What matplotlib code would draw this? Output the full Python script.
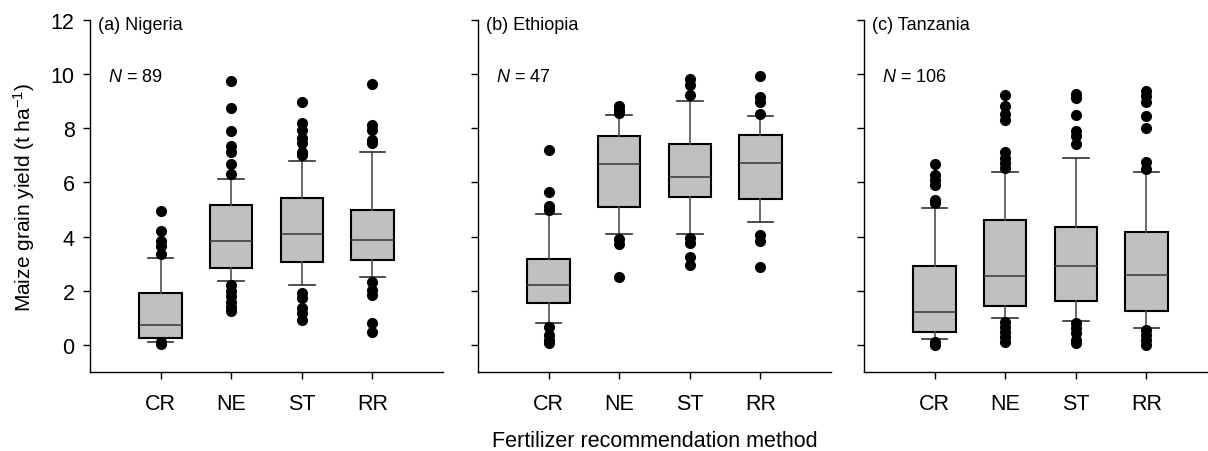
import matplotlib
matplotlib.use("Agg")
import matplotlib.pyplot as plt

plt.rcParams['font.family'] = ['Liberation Sans', 'DejaVu Sans']
plt.rcParams['mathtext.fontset'] = 'custom'
plt.rcParams['mathtext.rm'] = 'Liberation Sans'
plt.rcParams['mathtext.it'] = 'Liberation Sans:italic'
plt.rcParams['mathtext.bf'] = 'Liberation Sans:bold'

methods = ["CR", "NE", "ST", "RR"]
panel_titles = ["(a) Nigeria", "(b) Ethiopia", "(c) Tanzania"]
sample_sizes = [89, 47, 106]

# Per panel, per method: whislo, q1, median, q3, whishi
nigeria_stats = [
    [0.09, 0.25, 0.74, 1.92, 3.20],
    [2.36, 2.83, 3.84, 5.17, 6.13],
    [2.22, 3.05, 4.10, 5.43, 6.81],
    [2.51, 3.13, 3.86, 4.98, 7.11],
]
ethiopia_stats = [
    [0.82, 1.53, 2.22, 3.18, 4.82],
    [4.10, 5.11, 6.68, 7.73, 8.50],
    [4.10, 5.48, 6.22, 7.43, 9.02],
    [4.55, 5.38, 6.72, 7.75, 8.46],
]
tanzania_stats = [
    [0.21, 0.49, 1.23, 2.92, 5.05],
    [0.98, 1.45, 2.56, 4.62, 6.39],
    [0.90, 1.61, 2.93, 4.37, 6.89],
    [0.64, 1.24, 2.60, 4.17, 6.38],
]

nigeria_outliers = [
    [4.96, 4.22, 3.84, 3.67, 3.35, 0.02, 0.10],
    [9.75, 8.74, 7.90, 7.36, 7.11, 6.70, 6.31, 2.20, 2.00, 1.80, 1.60, 1.40, 1.25],
    [8.96, 8.18, 7.94, 7.63, 7.45, 7.14, 7.02, 1.91, 1.72, 1.35, 1.17, 0.92],
    [9.62, 8.12, 7.94, 7.57, 7.45, 2.34, 2.03, 1.85, 0.80, 0.49],
]
ethiopia_outliers = [
    [7.19, 5.66, 5.14, 4.98, 0.68, 0.37, 0.18, 0.06],
    [8.84, 8.68, 8.55, 3.91, 3.72, 2.50],
    [9.81, 9.60, 9.23, 3.94, 3.75, 3.26, 2.95],
    [9.93, 9.17, 8.98, 8.53, 4.06, 3.84, 2.89],
]
tanzania_outliers = [
    [6.68, 6.28, 6.09, 5.91, 5.35, 5.23, 0.12, 0.00],
    [9.23, 8.84, 8.52, 8.31, 7.14, 6.89, 6.71, 6.52, 0.86, 0.68, 0.49, 0.31, 0.12],
    [9.26, 9.11, 8.49, 7.90, 7.73, 7.41, 0.80, 0.62, 0.43, 0.18, 0.06],
    [9.38, 9.20, 8.96, 8.47, 8.02, 6.77, 6.50, 0.55, 0.37, 0.18, 0.00],
]

all_stats = [nigeria_stats, ethiopia_stats, tanzania_stats]
all_outliers = [nigeria_outliers, ethiopia_outliers, tanzania_outliers]

W, H = 1208, 452
fig = plt.figure(figsize=(W / 100, H / 100), dpi=100)

lefts = [90, 478, 864]
ax_w = 353
ax_bottom = 373
ax_top = 21

for i in range(3):
    ax = fig.add_axes([lefts[i] / W, 1 - ax_bottom / H, ax_w / W, (ax_bottom - ax_top) / H])
    bxpstats = []
    for j, m in enumerate(methods):
        lo, q1, med, q3, hi = all_stats[i][j]
        bxpstats.append(dict(label=m, whislo=lo, q1=q1, med=med, q3=q3, whishi=hi,
                             fliers=all_outliers[i][j]))
    ax.bxp(bxpstats, positions=[1, 2, 3, 4], widths=0.6, patch_artist=True,
           boxprops=dict(facecolor='#c0c0c0', edgecolor='black', linewidth=1.5),
           medianprops=dict(color='#404040', linewidth=1.2),
           whiskerprops=dict(color='#505050', linewidth=1.2),
           capprops=dict(color='#303030', linewidth=1.2),
           capwidths=0.36,
           flierprops=dict(marker='o', markerfacecolor='black', markeredgecolor='black',
                           markersize=7))
    ax.set_xlim(0, 5)
    ax.set_ylim(-1, 12)
    ax.set_yticks([0, 2, 4, 6, 8, 10, 12])
    ax.set_xticks([1, 2, 3, 4])
    ax.set_xticklabels(methods)
    ax.spines['top'].set_visible(False)
    ax.spines['right'].set_visible(False)
    for s in ('left', 'bottom'):
        ax.spines[s].set_linewidth(1.0)
    ax.tick_params(direction='out', length=5, width=1.0, labelsize=15.5, pad=6)
    ax.tick_params(axis='x', pad=10)
    if i == 0:
        ax.set_ylabel('Maize grain yield (t ha$^{\\mathrm{-1}}$)', fontsize=15, labelpad=10)
    else:
        ax.set_yticklabels([])
    ax.text(0.12, 11.85, panel_titles[i], fontsize=13, va='center', ha='left')
    ax.text(0.26, 9.93, '$\\it{N}$ = %d' % sample_sizes[i], fontsize=13, va='center', ha='left')

fig.text(655 / W, 1 - 442 / H, 'Fertilizer recommendation method', fontsize=15.5,
         ha='center', va='center')

fig.savefig('out.png', dpi=100)
